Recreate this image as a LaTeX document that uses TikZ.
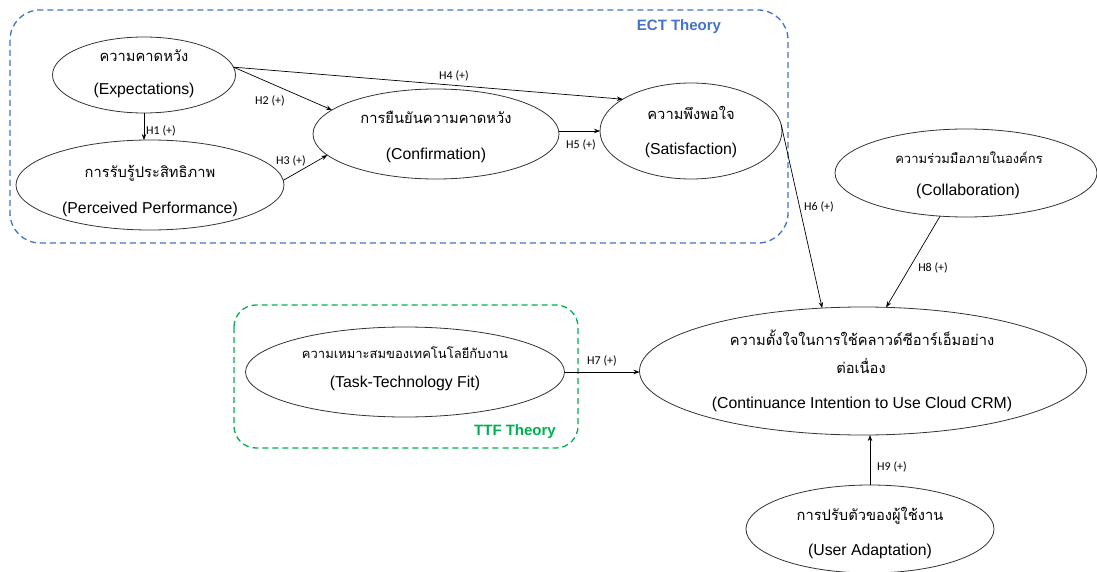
\documentclass[tikz,border=0pt]{standalone}
\usepackage{fontspec}
\setmainfont{Liberation Sans}
\newfontfamily\thai[Script=Thai]{Loma}
\newfontfamily\labfont{Carlito}
\usetikzlibrary{shapes.geometric,arrows.meta}
\definecolor{ectblue}{HTML}{4472C4}
\definecolor{ttfgreen}{HTML}{00B050}
\begin{document}
\begin{tikzpicture}[x=1pt,y=-1pt,
  var/.style={ellipse,draw=black!80,line width=0.8pt,inner sep=0pt,outer sep=0pt},
  th/.style={anchor=base,inner sep=0pt,font=\thai\fontsize{14.7}{17}\selectfont},
  ths/.style={anchor=base,inner sep=0pt,font=\thai\fontsize{13}{15}\selectfont},
  en/.style={anchor=base,inner sep=0pt,font=\fontsize{15.8}{18}\selectfont},
  hyp/.style={draw=black,line width=0.7pt,-{Stealth[length=6pt,width=4.5pt]}},
  hlab/.style={font=\labfont\fontsize{12}{14}\selectfont,inner sep=0pt},
  theorybox/.style={rounded corners=30pt,line width=1.3pt,dash pattern=on 6pt off 4pt},
  theorylab/.style={font=\bfseries\fontsize{15}{17}\selectfont,inner sep=0pt}]
\useasboundingbox (0,0) rectangle (1097,572);
% theory boxes
\draw[theorybox,draw=ectblue] (10,10) rectangle (788,243);
\node[theorylab,text=ectblue] (ectl) at (679,27) {ECT Theory};
\draw[theorybox,draw=ttfgreen,rounded corners=22pt] (234,305) rectangle (578,448);
\node[theorylab,text=ttfgreen] (ttfl) at (515,432) {TTF Theory};
% variables (ellipses)
\node[var,minimum width=183pt,minimum height=76pt] (exp) at (144,75) {};
\node[var,minimum width=268pt,minimum height=90pt] (perc) at (150,185) {};
\node[var,minimum width=246pt,minimum height=90pt] (conf) at (436,134) {};
\node[var,minimum width=182pt,minimum height=96pt] (sat) at (691,131) {};
\node[var,minimum width=262pt,minimum height=88pt] (coll) at (966,173) {};
\node[var,minimum width=319pt,minimum height=90pt] (ttf) at (405,372) {};
\node[var,minimum width=447pt,minimum height=128pt] (cont) at (863,371) {};
\node[var,minimum width=248pt,minimum height=88pt] (ua) at (870,529) {};
% texts
\node[th] (expth) at (144,62) {ความคาดหวัง};
\node[en] (expen) at (144,95) {(Expectations)};
\node[th] (percth) at (150,178) {การรับรู้ประสิทธิภาพ};
\node[en] (percen) at (150,213) {(Perceived Performance)};
\node[th] (confth) at (436,124) {การยืนยันความคาดหวัง};
\node[en] (confen) at (436,160) {(Confirmation)};
\node[th] (satth) at (691,120) {ความพึงพอใจ};
\node[en] (saten) at (691,155) {(Satisfaction)};
\node[ths] (collth) at (969,164) {ความร่วมมือภายในองค์กร};
\node[en] (collen) at (968,196) {(Collaboration)};
\node[ths] (ttfth) at (405,358) {ความเหมาะสมของเทคโนโลยีกับงาน};
\node[en] (ttfen) at (405,387) {(Task-Technology Fit)};
\node[th] (contth) at (862,345) {ความตั้งใจในการใช้คลาวด์ซีอาร์เอ็มอย่าง};
\node[th] (contthb) at (861,373) {ต่อเนื่อง};
\node[en] (conten) at (862,408) {(Continuance Intention to Use Cloud CRM)};
\node[th] (uath) at (870,520) {การปรับตัวของผู้ใช้งาน};
\node[en] (uaen) at (870,555) {(User Adaptation)};
% hypotheses
\draw[hyp] (exp.south) -- (exp.south |- perc.north);
\draw[hyp] (exp.5) -- (conf.167);
\draw[hyp] (perc.2) -- (conf.191);
\draw[hyp] (exp.5) -- (sat.155);
\draw[hyp] (sat.west -| conf.east) -- (sat.west);
\draw[hyp] (sat.4) -- (cont.123);
\draw[hyp] (coll.239) -- (cont.70);
\draw[hyp] (ttf.east) -- (ttf.east -| cont.west);
\draw[hyp] (ua.north) -- (ua.north |- cont.south);
% labels
\node[hlab] (h1) at (161,131) {H1 (+)};
\node[hlab] (h2) at (270,101) {H2 (+)};
\node[hlab] (h3) at (291,161) {H3 (+)};
\node[hlab] (h4) at (454,76) {H4 (+)};
\node[hlab] (h5) at (581,145) {H5 (+)};
\node[hlab] (h6) at (819,207) {H6 (+)};
\node[hlab] (h7) at (602,361) {H7 (+)};
\node[hlab] (h8) at (933,268) {H8 (+)};
\node[hlab] (h9) at (892,467) {H9 (+)};
\end{tikzpicture}
\end{document}
